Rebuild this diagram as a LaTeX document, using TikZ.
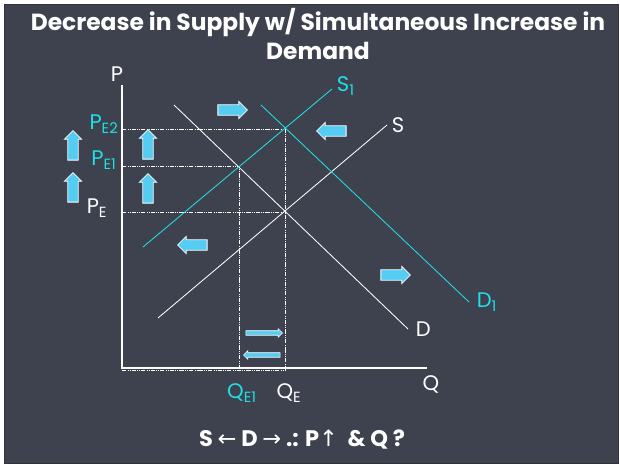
\documentclass[tikz,border=0pt]{standalone}
\usepackage{fontspec}
\setmainfont{Poppins}
\newfontfamily\symfont{DejaVu Sans}
\usetikzlibrary{shapes.arrows}
\definecolor{board}{HTML}{3E424E}
\definecolor{chalkcyan}{HTML}{1EE0E6}
\definecolor{arrowblue}{HTML}{55CCF2}
\tikzset{
  curve/.style={white,line width=0.6pt},
  newcurve/.style={chalkcyan,line width=0.6pt},
  guide/.style={white,densely dash dot dot,line width=0.5pt},
  fatarrow/.style={single arrow,draw=white,fill=arrowblue,line width=0.6pt,
    inner xsep=0pt,inner ysep=3.4pt,minimum height=21pt,single arrow head extend=2.4pt},
  thinarrow/.style={single arrow,draw=white,fill=arrowblue,line width=0.4pt,
    inner xsep=0pt,inner ysep=1.4pt,minimum height=26pt,single arrow head extend=1.4pt},
  lbl/.style={white,font=\fontsize{15}{15}\selectfont},
  newlbl/.style={chalkcyan,font=\fontsize{15}{15}\selectfont},
}
\begin{document}
\begin{tikzpicture}[x=0.025cm,y=-0.025cm]
  \useasboundingbox (0,0) rectangle (620,465);
  \fill[white] (0,0) rectangle (620,465);
  \filldraw[fill=board,draw=black!80,line width=0.5pt] (4,4) rectangle (618,463);
  % title
  \node[white,font=\bfseries\fontsize{16.6}{20}\selectfont,align=center] (title) at (318,34)
    {Decrease in Supply w/ Simultaneous Increase in\\Demand};
  % axes
  \coordinate (O) at (122,368);
  \coordinate (Ptop) at (122,85);
  \coordinate (Qend) at (427,368);
  \draw[white,line width=0.9pt] (Ptop) -- (O) -- (Qend);
  \node[lbl] (P) at (117,74) {P};
  \node[lbl] (Q) at (431,384) {Q};
  % equilibria
  \coordinate (E) at (285,212);
  \coordinate (E1) at (239,166);
  \coordinate (E2) at (285,129);
  % dotted guides
  \draw[guide] (122,129) -- (E2) -- (285,370);
  \draw[guide] (122,166) -- (E1) -- (239,370);
  \draw[guide] (122,212) -- (E);
  \draw[guide] (122,370.5) -- (285,370.5);
  % curves
  \coordinate (Sa) at (158,318); \coordinate (Sb) at (387,125);
  \coordinate (Da) at (174,105); \coordinate (Db) at (408,329);
  \coordinate (S1a) at (143,247); \coordinate (S1b) at (332,89);
  \coordinate (D1a) at (261,105); \coordinate (D1b) at (469,302);
  \draw[curve] (Sa) -- (Sb);
  \draw[curve] (Da) -- (Db);
  \draw[newcurve] (S1a) -- (S1b);
  \draw[newcurve] (D1a) -- (D1b);
  \node[lbl,anchor=west] (Slbl) at (Sb) {S};
  \node[lbl,anchor=west] (Dlbl) at ([xshift=2]Db) {D};
  \node[newlbl,anchor=west] (S1lbl) at ([yshift=2]S1b) {S\textsubscript{1}};
  \node[newlbl,anchor=west] (D1lbl) at ([xshift=2]D1b) {D\textsubscript{1}};
  % price labels
  \node[newlbl] (PE2) at (104,124) {P\textsubscript{E2}};
  \node[newlbl] (PE1) at (104,160) {P\textsubscript{E1}};
  \node[lbl] (PE) at (97,208) {P\textsubscript{E}};
  % quantity labels
  \node[newlbl] (QE1) at (242,393) {Q\textsubscript{E1}};
  \node[lbl] (QE) at (289,393) {Q\textsubscript{E}};
  % shift arrows
  \node[fatarrow] (dright) at (230,110) {};
  \node[fatarrow,rotate=180] (sleft) at (334,131) {};
  \node[fatarrow,rotate=180] (sleft2) at (195,245) {};
  \node[fatarrow] (dright2) at (393,275) {};
  \node[fatarrow,rotate=90] (pup1) at (73,148) {};
  \node[fatarrow,rotate=90] (pup2) at (73,190) {};
  \node[fatarrow,rotate=90] (pup3) at (148,147) {};
  \node[fatarrow,rotate=90] (pup4) at (148,191) {};
  \node[thinarrow] (qright) at (263,333) {};
  \node[thinarrow,rotate=180] (qleft) at (263,355) {};
  % summary
  \node[white,font=\bfseries\fontsize{16}{16}\selectfont] (summary) at (302,440)
    {S {\symfont\mdseries ←} D {\symfont\mdseries →} .: P{\symfont\mdseries ↑} \ \& Q ?};
\end{tikzpicture}
\end{document}
